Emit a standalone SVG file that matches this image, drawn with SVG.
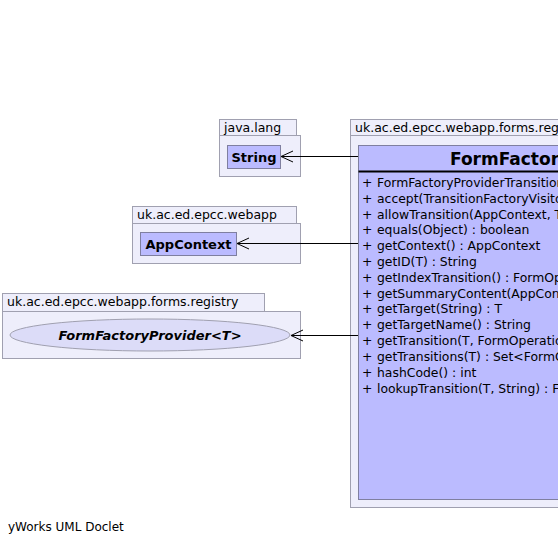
<svg xmlns="http://www.w3.org/2000/svg" width="558" height="545" viewBox="0 0 558 545">
<defs>
<style>
.pkg{fill:#eeeefb;stroke:#a0a0b0;stroke-width:1}
.cls{fill:#bbbbff;stroke:#7f7fa0;stroke-width:1}
.ptxt{font-family:"DejaVu Sans",sans-serif;font-size:12.5px;fill:#000}
.ctxt{font-family:"DejaVu Sans",sans-serif;font-size:13px;font-weight:bold;fill:#000}
.mtxt{font-family:"DejaVu Sans",sans-serif;font-size:12.4px;fill:#000}
.edge{fill:none;stroke:#000;stroke-width:1}
</style>
</defs>
<rect width="558" height="545" fill="#fff"/>
<g id="pkg-java-lang">
<rect class="pkg" x="219.5" y="119.5" width="77" height="16"/>
<rect class="pkg" x="219.5" y="135.5" width="81" height="41"/>
<text class="ptxt" x="224" y="132">java.lang</text>
</g>
<g id="String">
<rect class="cls" x="227.5" y="145.5" width="53" height="23"/>
<text class="ctxt" x="254" y="161.5" text-anchor="middle">String</text>
</g>
<g id="pkg-webapp">
<rect class="pkg" x="132.5" y="206.5" width="164" height="17"/>
<rect class="pkg" x="132.5" y="223.5" width="168" height="40"/>
<text class="ptxt" x="137" y="219">uk.ac.ed.epcc.webapp</text>
</g>
<g id="AppContext">
<rect class="cls" x="140.5" y="232.5" width="96" height="23"/>
<text class="ctxt" x="188.5" y="248.5" text-anchor="middle">AppContext</text>
</g>
<g id="pkg-registry-small">
<rect class="pkg" x="2.5" y="293.5" width="262" height="18"/>
<rect class="pkg" x="2.5" y="311.5" width="298" height="47"/>
<text class="ptxt" x="7" y="306">uk.ac.ed.epcc.webapp.forms.registry</text>
</g>
<g id="FormFactoryProvider">
<ellipse cx="150" cy="335" rx="140" ry="16" fill="#dcdcf8" stroke="#a0a0b0" stroke-width="1"/>
<text class="ctxt" x="150" y="340" text-anchor="middle" font-style="italic">FormFactoryProvider&lt;T&gt;</text>
</g>
<g id="pkg-registry-main">
<rect class="pkg" x="350.5" y="119.5" width="240" height="16"/>
<rect class="pkg" x="350.5" y="135.5" width="240" height="372"/>
<text class="ptxt" x="355" y="132">uk.ac.ed.epcc.webapp.forms.registry</text>
</g>
<g id="FormFactoryProviderTransitionProvider">
<rect class="cls" x="358.5" y="145.5" width="230" height="354"/>
<line x1="358.5" y1="171.5" x2="588.5" y2="171.5" stroke="#000" stroke-width="2"/>
<text x="450" y="165" font-family="DejaVu Sans, sans-serif" font-size="17" font-weight="bold">FormFactoryProviderTransitionProvider</text>
<g class="mtxt">
<text x="362" y="187">+<tspan x="377">FormFactoryProviderTransitionProvider(AppContext, String, FormFactoryProvider)</tspan></text>
<text x="362" y="203">+<tspan x="377">accept(TransitionFactoryVisitor) : R</tspan></text>
<text x="362" y="219">+<tspan x="377">allowTransition(AppContext, T, Object) : boolean</tspan></text>
<text x="362" y="234">+<tspan x="377">equals(Object) : boolean</tspan></text>
<text x="362" y="250">+<tspan x="377">getContext() : AppContext</tspan></text>
<text x="362" y="266">+<tspan x="377">getID(T) : String</tspan></text>
<text x="362" y="282">+<tspan x="377">getIndexTransition() : FormOperation</tspan></text>
<text x="362" y="298">+<tspan x="377">getSummaryContent(AppContext, ContentBuilder, T) : X</tspan></text>
<text x="362" y="313">+<tspan x="377">getTarget(String) : T</tspan></text>
<text x="362" y="329">+<tspan x="377">getTargetName() : String</tspan></text>
<text x="362" y="345">+<tspan x="377">getTransition(T, FormOperation) : Transition</tspan></text>
<text x="362" y="361">+<tspan x="377">getTransitions(T) : Set&lt;FormOperation&gt;</tspan></text>
<text x="362" y="377">+<tspan x="377">hashCode() : int</tspan></text>
<text x="362" y="393">+<tspan x="377">lookupTransition(T, String) : FormOperation</tspan></text>
</g>
</g>
<g id="connectors">
<path class="edge" d="M358,156.5 L281,156.5 M293,151 L281,156.5 L293,162"/>
<path class="edge" d="M358,243.5 L237,243.5 M249,238 L237,243.5 L249,249"/>
<path class="edge" d="M358,335.5 L291,335.5 M303,330 L291,335.5 L303,341"/>
</g>
<text x="8" y="531" font-family="DejaVu Sans, sans-serif" font-size="12">yWorks UML Doclet</text>
</svg>
